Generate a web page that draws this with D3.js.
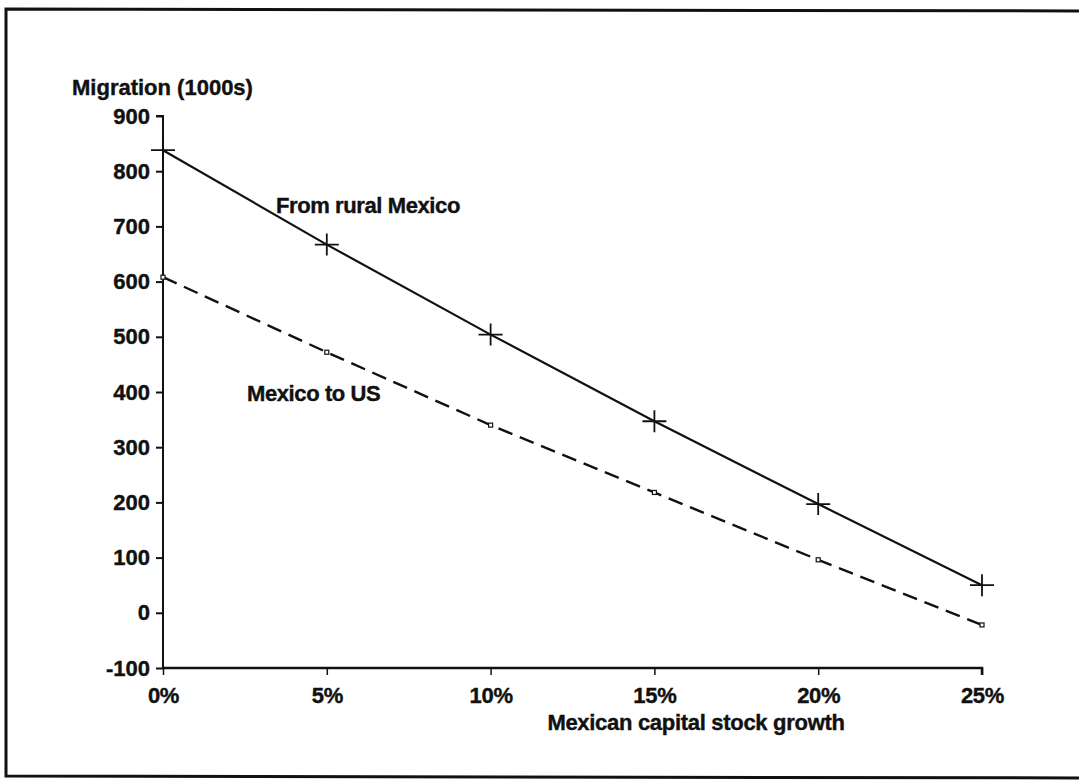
<!DOCTYPE html>
<html>
<head>
<meta charset="utf-8">
<script src="https://cdn.jsdelivr.net/npm/d3@7/dist/d3.min.js"></script>
<style>
  html, body { margin: 0; padding: 0; background: #fff; }
  svg { display: block; }
  text { font-family: "Liberation Sans", Arial, Helvetica, sans-serif; font-weight: bold; fill: #111; stroke: #111; stroke-width: 0.4px; }
</style>
</head>
<body>
<svg id="chart" width="1079" height="783"></svg>
<script>
// ---- data ----
const growth = [0, 5, 10, 15, 20, 25];              // Mexican capital stock growth (%)
const fromRuralMexico = [838, 667, 504, 347, 197, 50];
const mexicoToUS = [608, 472, 340, 218, 96, -22];
const yTicks = [-100, 0, 100, 200, 300, 400, 500, 600, 700, 800, 900];
const xTicks = [0, 5, 10, 15, 20, 25];
const yTitle = "Migration (1000s)";
const xTitle = "Mexican capital stock growth";
const label1 = "From rural Mexico";
const label2 = "Mexico to US";

const svg = d3.select("#chart");

// frame
svg.append("path")
  .attr("d", "M1090,11 L6,9 L6,776 L1090,778")
  .attr("fill", "none").attr("stroke", "#111").attr("stroke-width", 3);

const x = d3.scaleLinear().domain([0, 25]).range([163, 982]);
const y = d3.scaleLinear().domain([-100, 900]).range([668, 116]);

const FONT = "Liberation Sans, Arial, sans-serif";

// y axis
const yAxis = svg.append("g").attr("transform", `translate(${x(0)},0)`)
  .call(d3.axisLeft(y).tickValues(yTicks).tickSize(7).tickPadding(6).tickFormat(d => String(d)));
yAxis.select(".domain").attr("stroke", "#111").attr("stroke-width", 2).attr("d", `M-7,${y(900)}H0V${y(-100)}`);
yAxis.selectAll(".tick line").attr("stroke", "#111").attr("stroke-width", 2);
yAxis.selectAll(".tick text").attr("font-size", 22).attr("font-family", FONT)
  .attr("font-weight", "bold").attr("fill", "#111").attr("letter-spacing", "0px");

// x axis
const xAxis = svg.append("g").attr("transform", `translate(0,${y(-100)})`)
  .call(d3.axisBottom(x).tickValues(xTicks).tickSize(7).tickPadding(12).tickFormat(d => d + "%"));
xAxis.select(".domain").attr("stroke", "#111").attr("stroke-width", 2.5).attr("d", `M${x(0)},0H${x(25)}V7`);
xAxis.selectAll(".tick line").attr("stroke", "#111").attr("stroke-width", 1.5);
xAxis.selectAll(".tick text").attr("font-size", 22).attr("font-family", FONT)
  .attr("font-weight", "bold").attr("fill", "#111").attr("letter-spacing", "-0.3px");

// titles
svg.append("text").attr("x", 72).attr("y", 95).attr("font-size", 22).attr("letter-spacing", "0px").text(yTitle);
svg.append("text").attr("x", 696).attr("y", 730).attr("text-anchor", "middle").attr("font-size", 22)
  .attr("letter-spacing", "-0.3px").text(xTitle);

// lines
const line1 = d3.line().x((d, i) => x(growth[i])).y(d => y(d));
svg.append("path").datum(fromRuralMexico).attr("d", line1)
  .attr("fill", "none").attr("stroke", "#111").attr("stroke-width", 2.2);
svg.append("path").datum(mexicoToUS).attr("d", line1)
  .attr("fill", "none").attr("stroke", "#111").attr("stroke-width", 2.4).attr("stroke-dasharray", "15,8");

// plus markers
svg.append("g").selectAll("path").data(fromRuralMexico).join("path")
  .attr("d", (d, i) => `M${x(growth[i]) - 12},${y(d)}h24M${x(growth[i])},${y(d) - 11}v22`)
  .attr("stroke", "#111").attr("stroke-width", 1.8).attr("fill", "none");

// small square markers
svg.append("g").selectAll("rect").data(mexicoToUS).join("rect")
  .attr("x", (d, i) => x(growth[i]) - 2).attr("y", d => y(d) - 2)
  .attr("width", 4).attr("height", 4)
  .attr("fill", "#fff").attr("stroke", "#111").attr("stroke-width", 1.2);

// series labels
svg.append("text").attr("x", 276).attr("y", 213).attr("font-size", 22).attr("letter-spacing", "-0.4px").text(label1);
svg.append("text").attr("x", 247).attr("y", 401).attr("font-size", 22).attr("letter-spacing", "-0.4px").text(label2);
</script>
</body>
</html>
